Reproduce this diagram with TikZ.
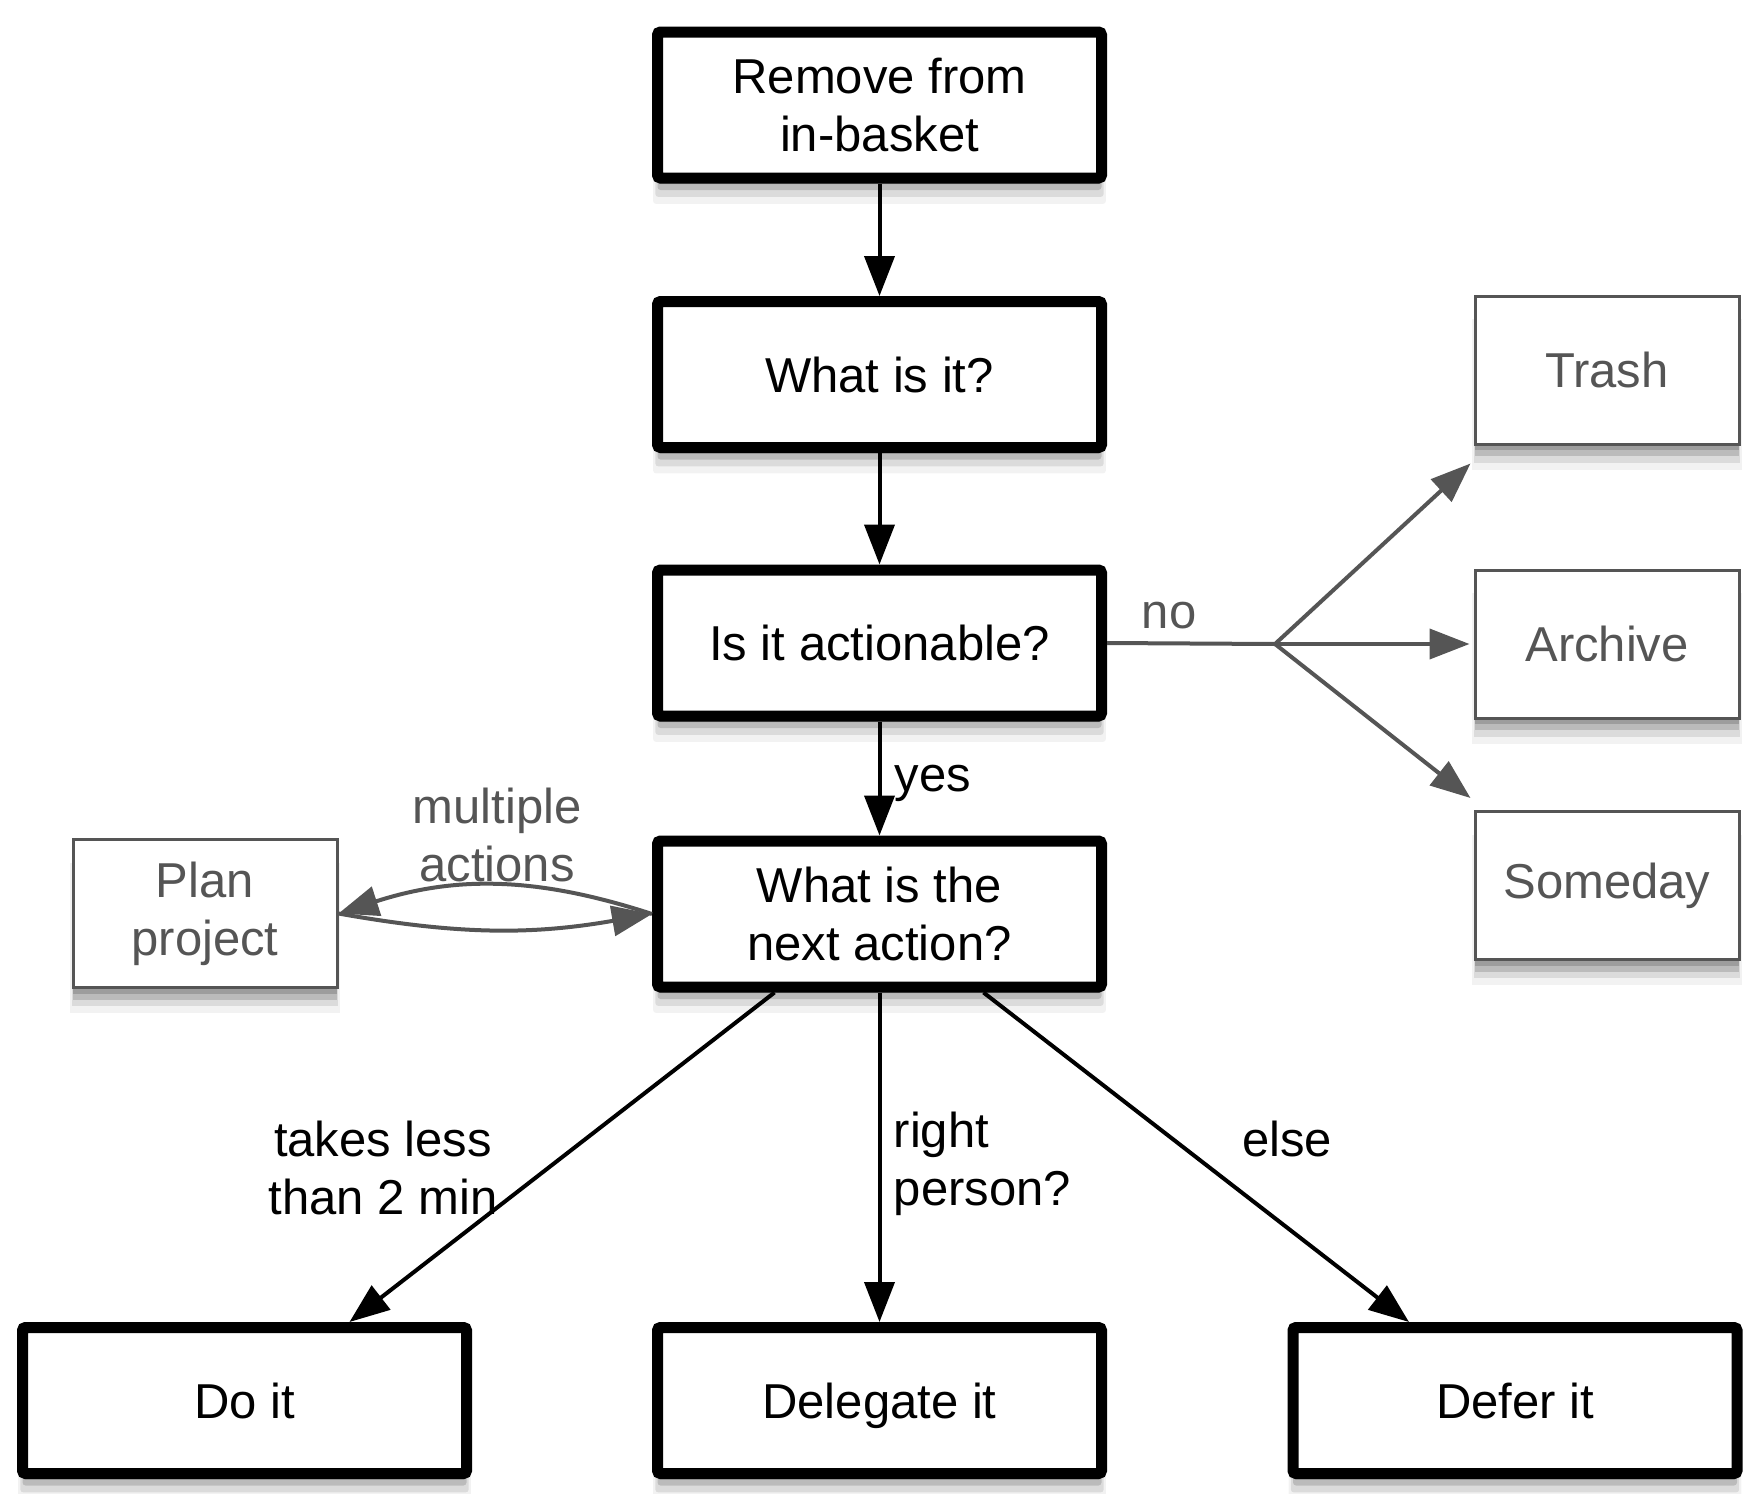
\documentclass[tikz,border=0pt]{standalone}
\usepackage{fontspec}
\setmainfont{Liberation Sans}
\usetikzlibrary{arrows.meta,shadows,calc}

\definecolor{lgray}{RGB}{85,85,85}

\tikzset{every picture/.style={line width=0.75pt}}
\tikzset{
  boxfont/.style={font=\fontsize{24.5}{29}\selectfont},
  softshadow/.style={drop shadow={shadow xshift=0pt,shadow yshift=-3pt,opacity=0.5},
                     drop shadow={shadow xshift=0pt,shadow yshift=-6pt,opacity=0.35},
                     drop shadow={shadow xshift=0pt,shadow yshift=-9pt,opacity=0.2,shadow scale=1.01},
                     drop shadow={shadow xshift=0pt,shadow yshift=-12pt,opacity=0.1,shadow scale=1.02}},
  mainbox/.style={boxfont, draw=black, line width=5.5pt, rounded corners=1.5pt, fill=white,
                  minimum width=222pt, minimum height=73pt, align=center, softshadow},
  sidebox/.style={boxfont, draw=lgray, line width=1.5pt, fill=white, text=lgray,
                  minimum width=132pt, minimum height=74pt, align=center, softshadow},
  blackarrow/.style={draw=black, line width=2pt, -{Triangle[length=20pt,width=15pt]}},
  grayarrow/.style={draw=lgray, line width=2pt, -{Triangle[length=20pt,width=15pt]}},
  grayline/.style={draw=lgray, line width=2pt},
  lbl/.style={boxfont, align=center, inner sep=0pt}
}

\begin{document}
\begin{tikzpicture}[x=0.5pt,y=-0.5pt]
\useasboundingbox (0,0) rectangle (1758,1494);

% main column
\node[mainbox] (remove) at (879.5,105) {Remove from\\in-basket};
\node[mainbox] (what) at (879.5,374.5) {What is it?};
\node[mainbox] (action) at (879.5,643) {Is it actionable?};
\node[mainbox] (next) at (879.5,914) {What is the\\next action?};

% bottom row
\node[mainbox] (doit) at (244.5,1400.5) {Do it};
\node[mainbox, text depth=0pt] (delegate) at (879.5,1400.5) {Delegate it};
\node[mainbox] (defer) at (1515,1400.5) {Defer it};

% side boxes
\node[sidebox] (plan) at (205,913.5) {Plan\\project};
\node[sidebox] (trash) at (1607,370) {Trash};
\node[sidebox] (archive) at (1607,644) {Archive};
\node[sidebox] (someday) at (1607,885.5) {Someday};

% vertical arrows
\draw[blackarrow] (remove) -- (what);
\draw[blackarrow] (what) -- (action);
\draw[blackarrow] (action) -- (next);

% no branch
\coordinate (fork) at (1275,644);
\draw[grayline] (action.east) -- (fork);
\draw[grayarrow] (fork) -- ([shift={(-3,18)}]trash.south west);
\draw[grayarrow] (fork) -- ([xshift=-2pt]archive.west);
\draw[grayarrow] (fork) -- ([shift={(-3,-12)}]someday.north west);

% next action branches
\draw[blackarrow] ($(next.south)+(-105,0)$) -- ($(doit.north)+(105,0)$);
\draw[blackarrow] (next) -- (delegate);
\draw[blackarrow] ($(next.south)+(104,0)$) -- ($(defer.north)+(-106,0)$);

% plan project loop
\draw[grayarrow] (next.west) to[bend right=18] (plan.east);
\draw[grayarrow] (plan.east) to[bend right=10] (next.west);

% Text Node
\node[lbl, text=lgray] (nolbl) at (1169,616) {no};
\node[lbl] (yeslbl) at (933,783) {yes};
\node[lbl, text=lgray] (multlbl) at (497,835) {multiple\\actions};
\node[lbl] (quicklbl) at (383,1168) {takes less\\than 2 min};
\node[lbl, align=left, anchor=west] (rightlbl) at (893,1164) {right\\person?};
\node[lbl] (elselbl) at (1287,1139) {else};

\end{tikzpicture}
\end{document}
